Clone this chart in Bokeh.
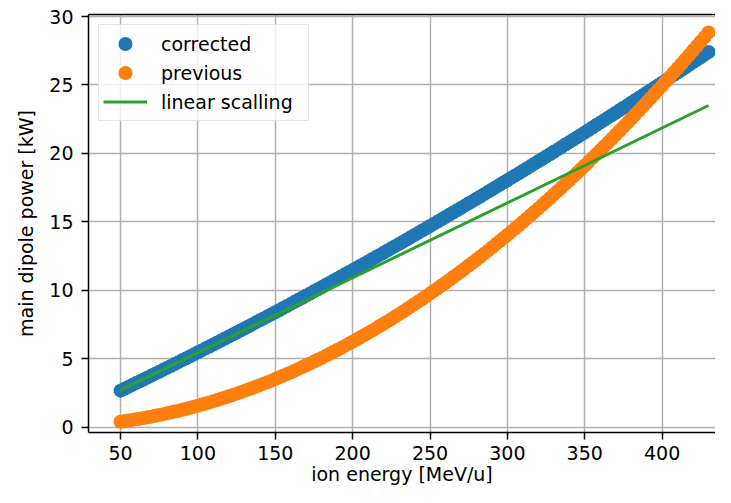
from bokeh.plotting import figure
from bokeh.models import (Range1d, SingleIntervalTicker, LinearAxis, FixedTicker,
                          Legend, LegendItem)
from bokeh.embed import file_html
from bokeh.resources import INLINE

# ---- data ----
energy = [50, 52.5, 55, 57.5, 60, 62.5, 65, 67.5, 70, 72.5,
          75, 77.5, 80, 82.5, 85, 87.5, 90, 92.5, 95, 97.5,
          100, 102.5, 105, 107.5, 110, 112.5, 115, 117.5, 120, 122.5,
          125, 127.5, 130, 132.5, 135, 137.5, 140, 142.5, 145, 147.5,
          150, 152.5, 155, 157.5, 160, 162.5, 165, 167.5, 170, 172.5,
          175, 177.5, 180, 182.5, 185, 187.5, 190, 192.5, 195, 197.5,
          200, 202.5, 205, 207.5, 210, 212.5, 215, 217.5, 220, 222.5,
          225, 227.5, 230, 232.5, 235, 237.5, 240, 242.5, 245, 247.5,
          250, 252.5, 255, 257.5, 260, 262.5, 265, 267.5, 270, 272.5,
          275, 277.5, 280, 282.5, 285, 287.5, 290, 292.5, 295, 297.5,
          300, 302.5, 305, 307.5, 310, 312.5, 315, 317.5, 320, 322.5,
          325, 327.5, 330, 332.5, 335, 337.5, 340, 342.5, 345, 347.5,
          350, 352.5, 355, 357.5, 360, 362.5, 365, 367.5, 370, 372.5,
          375, 377.5, 380, 382.5, 385, 387.5, 390, 392.5, 395, 397.5,
          400, 402.5, 405, 407.5, 410, 412.5, 415, 417.5, 420, 422.5,
          425, 427.5, 430]

corrected = [2.66, 2.80, 2.93, 3.07, 3.21, 3.35, 3.48, 3.62, 3.76, 3.90,
             4.04, 4.18, 4.32, 4.46, 4.60, 4.74, 4.89, 5.03, 5.17, 5.31,
             5.46, 5.60, 5.75, 5.89, 6.03, 6.18, 6.32, 6.47, 6.62, 6.76,
             6.91, 7.06, 7.20, 7.35, 7.50, 7.65, 7.80, 7.94, 8.09, 8.24,
             8.39, 8.54, 8.70, 8.85, 9.00, 9.15, 9.30, 9.45, 9.61, 9.76,
             9.92, 10.07, 10.22, 10.38, 10.53, 10.69, 10.84, 11.00, 11.16, 11.31,
             11.47, 11.63, 11.79, 11.94, 12.10, 12.26, 12.42, 12.58, 12.74, 12.90,
             13.06, 13.22, 13.38, 13.54, 13.71, 13.87, 14.03, 14.19, 14.36, 14.52,
             14.69, 14.85, 15.02, 15.18, 15.35, 15.51, 15.68, 15.84, 16.01, 16.18,
             16.35, 16.51, 16.68, 16.85, 17.02, 17.19, 17.36, 17.53, 17.70, 17.87,
             18.04, 18.21, 18.38, 18.55, 18.73, 18.90, 19.07, 19.25, 19.42, 19.59,
             19.77, 19.94, 20.12, 20.29, 20.47, 20.65, 20.82, 21.00, 21.18, 21.35,
             21.53, 21.71, 21.89, 22.07, 22.25, 22.43, 22.61, 22.79, 22.97, 23.15,
             23.33, 23.51, 23.70, 23.88, 24.06, 24.24, 24.43, 24.61, 24.80, 24.98,
             25.17, 25.35, 25.54, 25.72, 25.91, 26.09, 26.28, 26.47, 26.66, 26.84,
             27.03, 27.22, 27.41]

previous = [0.39, 0.43, 0.47, 0.52, 0.56, 0.61, 0.66, 0.71, 0.76, 0.82,
            0.88, 0.94, 1.00, 1.06, 1.13, 1.19, 1.26, 1.34, 1.41, 1.48,
            1.56, 1.64, 1.72, 1.80, 1.89, 1.97, 2.06, 2.15, 2.25, 2.34,
            2.44, 2.54, 2.64, 2.74, 2.84, 2.95, 3.06, 3.17, 3.28, 3.39,
            3.51, 3.63, 3.75, 3.87, 3.99, 4.12, 4.25, 4.38, 4.51, 4.64,
            4.78, 4.92, 5.05, 5.20, 5.34, 5.48, 5.63, 5.78, 5.93, 6.09,
            6.24, 6.40, 6.56, 6.72, 6.88, 7.04, 7.21, 7.38, 7.55, 7.72,
            7.90, 8.07, 8.25, 8.43, 8.62, 8.80, 8.99, 9.17, 9.36, 9.56,
            9.75, 9.95, 10.14, 10.34, 10.55, 10.75, 10.96, 11.16, 11.37, 11.58,
            11.80, 12.01, 12.23, 12.45, 12.67, 12.89, 13.12, 13.35, 13.58, 13.81,
            14.04, 14.28, 14.51, 14.75, 14.99, 15.23, 15.48, 15.73, 15.97, 16.23,
            16.48, 16.73, 16.99, 17.25, 17.51, 17.77, 18.03, 18.30, 18.57, 18.84,
            19.11, 19.38, 19.66, 19.94, 20.22, 20.50, 20.78, 21.07, 21.36, 21.65,
            21.94, 22.23, 22.53, 22.82, 23.12, 23.42, 23.73, 24.03, 24.34, 24.65,
            24.96, 25.27, 25.59, 25.91, 26.22, 26.54, 26.87, 27.19, 27.52, 27.85,
            28.18, 28.51, 28.84]

linear_energy = [50, 430]
linear_power = [2.7, 23.5]

series_labels = ["corrected", "previous", "linear scalling"]
x_label = "ion energy [MeV/u]"
y_label = "main dipole power [kW]"

BLUE = "#1f77b4"
ORANGE = "#ff7f0e"
GREEN = "#2ca02c"
FONT = "DejaVu Sans"
FS = "19px"

p = figure(width=715, height=487, output_backend="svg", toolbar_location=None,
           x_range=Range1d(29.3, 434.5), y_range=Range1d(-0.4, 30.15),
           min_border_left=88, min_border_right=0, min_border_top=14,
           min_border_bottom=10,
           background_fill_color="white", border_fill_color="white",
           outline_line_color=None)

p.xaxis.ticker = SingleIntervalTicker(interval=50)
p.yaxis.ticker = SingleIntervalTicker(interval=5)
p.xaxis.axis_label = x_label
p.yaxis.axis_label = y_label

for ax in (p.xaxis[0], p.yaxis[0]):
    ax.axis_line_color = "black"
    ax.axis_line_width = 1.5
    ax.major_tick_line_color = "black"
    ax.major_tick_line_width = 1.5
    ax.major_tick_out = 7
    ax.major_tick_in = 0
    ax.minor_tick_out = 0
    ax.minor_tick_in = 0
    ax.major_label_text_font = FONT
    ax.major_label_text_font_size = FS
    ax.major_label_text_color = "black"
    ax.axis_label_text_font = FONT
    ax.axis_label_text_font_size = FS
    ax.axis_label_text_font_style = "normal"
    ax.axis_label_text_color = "black"

p.xaxis.major_label_standoff = 6
p.xaxis.axis_label_standoff = 0
p.yaxis.major_label_standoff = 8
p.yaxis.axis_label_standoff = 9

top = LinearAxis(ticker=FixedTicker(ticks=[]), major_tick_out=0, major_tick_in=0,
                 minor_tick_out=0, minor_tick_in=0, axis_line_width=1.5,
                 axis_line_color="black", major_label_text_font_size="0px")
p.add_layout(top, "above")

p.grid.grid_line_color = "#b0b0b0"
p.grid.grid_line_width = 1.5

# size + stroke width chosen so plot dots (~14px) and legend dots match the reference
r1 = p.scatter(energy, corrected, size=11.5, fill_color=BLUE, line_color=BLUE, line_width=2.5)
r2 = p.scatter(energy, previous, size=11.5, fill_color=ORANGE, line_color=ORANGE, line_width=2.5)
r3 = p.line(linear_energy, linear_power, line_color=GREEN, line_width=3)

legend = Legend(items=[LegendItem(label=series_labels[0], renderers=[r1]),
                       LegendItem(label=series_labels[1], renderers=[r2]),
                       LegendItem(label=series_labels[2], renderers=[r3])],
                location="top_left", margin=10,
                glyph_width=44, glyph_height=29, label_standoff=14,
                label_width=143, label_height=20, spacing=0, padding=4,
                label_text_font=FONT, label_text_font_size=FS,
                label_text_color="black",
                border_line_color="#cccccc", border_line_width=1.5,
                background_fill_color="white", background_fill_alpha=0.8)
p.add_layout(legend)

open("out.html", "w").write(file_html(p, INLINE))
